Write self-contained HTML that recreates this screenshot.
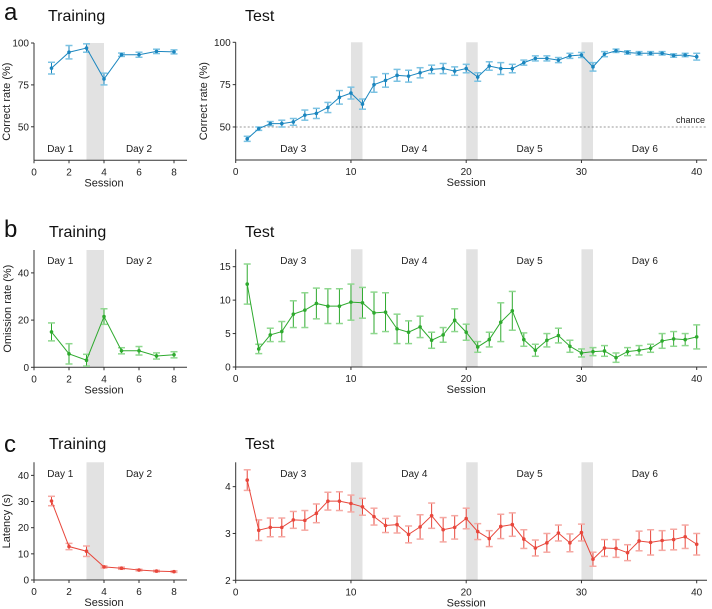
<!DOCTYPE html>
<html><head><meta charset="utf-8"><style>
body{margin:0;background:#fff;}
svg{display:block;font-family:"Liberation Sans",Arial,sans-serif;}
</style></head><body>
<svg id="fig" width="712" height="609" viewBox="0 0 712 609"></svg>
<script>
const sessionsTrain=[1,2,3,4,5,6,7,8];
const sessionsTest=Array.from({length:40},(_,i)=>i+1);
const correctTrain=[85,94.5,97,78.5,93,93,95,94.7];
const correctTrainErr=[3.5,4,2.5,3.5,1,1.5,1.3,1.2];
const correctTest=[43,49,52,52,53,57,58,61.5,67.5,70,63.5,75,77.5,80.5,80,82,84,84.5,83,84.5,79.5,86,84.5,84.5,88,90.5,90.5,89.5,92,92.5,85.5,93,95,94,93.5,93.5,93.5,92.2,92.5,91.5];
const correctTestErr=[1.5,1,1.2,2,2,3,3,3,4,3.5,3,4.5,4,3.5,3.5,3,2.5,3,2.5,2.5,2.5,2.5,3.5,2.5,1.5,1.5,1.5,1.5,1.5,1.5,2.5,1.5,1,1,1,1,1,1,1,2];
const omitTrain=[15,5.7,3,21.5,7,7,4.8,5.3];
const omitTrainErr=[3.8,4.3,2.5,3.3,1.3,1.8,1.3,1.3];
const omitTest=[12.4,2.7,4.8,5.3,7.9,8.5,9.5,9.1,9.1,9.7,9.6,8.1,8.2,5.7,5.2,6,4,4.8,7,5.2,3,4.1,6.7,8.4,4.1,2.5,4,4.7,3.1,2.1,2.3,2.4,1.4,2.3,2.5,2.8,3.9,4.2,4.1,4.5];
const omitTestErr=[3,0.7,1,1.5,2,2.6,2.3,2.6,2.6,2.7,2.3,3.1,2.9,2.2,1.7,1.6,1.2,1.1,1.7,1.2,0.8,1.1,2.9,2.9,1,0.9,1,1.1,0.9,0.6,0.6,0.8,0.7,0.6,0.7,0.6,1.1,1.1,0.9,1.8];
const latTrain=[30.2,12.8,11,5,4.5,3.8,3.4,3.2];
const latTrainErr=[1.8,1.2,2,0.4,0.4,0.3,0.3,0.3];
const latTest=[4.14,3.07,3.13,3.13,3.29,3.28,3.43,3.69,3.69,3.64,3.57,3.36,3.17,3.19,2.98,3.14,3.38,3.08,3.13,3.32,3.04,2.89,3.15,3.19,2.88,2.69,2.80,3.01,2.80,3.02,2.45,2.69,2.68,2.59,2.84,2.81,2.85,2.87,2.93,2.77];
const latTestErr=[0.22,0.22,0.2,0.2,0.18,0.21,0.2,0.19,0.2,0.18,0.18,0.18,0.15,0.18,0.18,0.26,0.27,0.26,0.25,0.22,0.17,0.17,0.26,0.25,0.2,0.17,0.2,0.17,0.19,0.18,0.15,0.18,0.19,0.17,0.21,0.27,0.21,0.22,0.25,0.23];
const ticksTrainX=[0,2,4,6,8];
const ticksTestX=[0,10,20,30,40];

const svg=document.getElementById('fig');
const NS='http://www.w3.org/2000/svg';
function el(tag,attrs,parent,text){const e=document.createElementNS(NS,tag);for(const k in attrs)e.setAttribute(k,attrs[k]);if(text!==undefined)e.textContent=text;(parent||svg).appendChild(e);return e;}

function panel(o){
  const g=el('g',{});
  
  
  const sx=v=>o.x0+(v-o.xmin)*(o.x1-o.x0)/(o.xmax-o.xmin);
  const sy=v=>o.yb-(v-o.ymin)*(o.yb-o.yt)/(o.ymax-o.ymin);
  // shaded bands
  o.bands.forEach(b=>{const r=el('rect',{x:sx(b),y:o.yt,width:sx(b+1)-sx(b),height:o.yb-o.yt,fill:'#e2e2e2'},g);
    
    });
  if(o.chance!==undefined){const l=el('line',{x1:o.x0,x2:o.axEnd,y1:sy(o.chance),y2:sy(o.chance),stroke:'#777','stroke-width':0.8,'stroke-dasharray':'2,2'},g);
    
    
    const t=el('text',{x:o.axEnd-2,y:sy(o.chance)-4,'font-size':9,'text-anchor':'end',fill:'#222'},g,'chance');
    
    }
  // axes
  el('line',{x1:o.x0,x2:o.axEnd,y1:o.yb,y2:o.yb,stroke:'#333','stroke-width':1},g);
  el('line',{x1:o.x0,x2:o.x0,y1:o.yt,y2:o.yb,stroke:'#333','stroke-width':1},g);
  o.xt.forEach(v=>{el('line',{x1:sx(v),x2:sx(v),y1:o.yb,y2:o.yb+3,stroke:'#333'},g);
    const t=el('text',{x:sx(v),y:o.yb+15,'font-size':10,'text-anchor':'middle',fill:'#222'},g,v);
    
    });
  o.yticks.forEach(v=>{el('line',{x1:o.x0-3,x2:o.x0,y1:sy(v),y2:sy(v),stroke:'#333'},g);
    const t=el('text',{x:o.x0-5,y:sy(v)+3.5,'font-size':10,'text-anchor':'end',fill:'#222'},g,v);
    
    });
  const xl=el('text',{x:(o.x0+o.x1)/2,y:o.yb+26,'font-size':11,'text-anchor':'middle',fill:'#222'},g,'Session');
  
  
  if(o.ytitle){const yl=el('text',{x:0,y:0,'font-size':11,'text-anchor':'middle',fill:'#222',transform:`translate(${o.ytx},${(o.yt+o.yb)/2}) rotate(-90)`},g,o.ytitle);
    
    }
  o.days.forEach(d=>{const t=el('text',{x:sx(d[0]),y:o.dayY,'font-size':10,'text-anchor':'middle',fill:'#222'},g,d[1]);
    
    });
  // error bars
  o.xs.forEach((s,i)=>{const x=sx(s),hi=sy(o.ys[i]+o.err[i]),lo=sy(o.ys[i]-o.err[i]);
    const eg=el('g',{stroke:o.c,'stroke-width':1},g);
    
    
    el('line',{x1:x,x2:x,y1:hi,y2:lo},eg);
    el('line',{x1:x-3.5,x2:x+3.5,y1:hi,y2:hi,stroke:o.lc,'stroke-width':1.5},eg);
    el('line',{x1:x-3.5,x2:x+3.5,y1:lo,y2:lo,stroke:o.lc,'stroke-width':1.5},eg);});
  const pts=o.xs.map((s,i)=>sx(s)+','+sy(o.ys[i])).join(' ');
  const pl=el('polyline',{points:pts,fill:'none',stroke:o.c,'stroke-width':1},g);
  
  
  o.xs.forEach((s,i)=>{const c=el('circle',{cx:sx(s),cy:sy(o.ys[i]),r:1.8,fill:o.c},g);
    
    });
}
function label(x,y,txt,size,name,weight){const t=el('text',{x:x,y:y,'font-size':size,fill:'#111'},svg,txt);
  
  }

const blue='#1b86bf',blueL='#7cc3e3',green='#2eaa2e',greenL='#8fd88f',red='#e8473c',redL='#f5a9a3';
const L={x0:34,x1:174,xmin:0,xmax:8,axEnd:187,bands:[3],xt:ticksTrainX};
const R={x0:235.7,x1:696.7,xmin:0,xmax:40,axEnd:707,bands:[10,20,30],xt:ticksTestX};

panel(Object.assign({},L,{name:'panel-a-training',yt:43,yb:160.3,ymin:30,ymax:100,yticks:[50,75,100],ytitle:'Correct rate (%)',ytx:10,days:[[1.5,'Day 1'],[6,'Day 2']],dayY:152,xs:sessionsTrain,ys:correctTrain,err:correctTrainErr,c:blue,lc:blueL}));
panel(Object.assign({},R,{name:'panel-a-test',yt:42.3,yb:160,ymin:30.5,ymax:100,yticks:[50,75,100],ytitle:'Correct rate (%)',ytx:207,days:[[5,'Day 3'],[15.5,'Day 4'],[25.5,'Day 5'],[35.5,'Day 6']],dayY:152,chance:50,xs:sessionsTest,ys:correctTest,err:correctTestErr,c:blue,lc:blueL}));
panel(Object.assign({},L,{name:'panel-b-training',yt:250,yb:367.3,ymin:0,ymax:49.7,yticks:[0,20,40],ytitle:'Omission rate (%)',ytx:11,days:[[1.5,'Day 1'],[6,'Day 2']],dayY:264,xs:sessionsTrain,ys:omitTrain,err:omitTrainErr,c:green,lc:greenL}));
panel(Object.assign({},R,{name:'panel-b-test',yt:249.3,yb:367,ymin:0,ymax:17.6,yticks:[0,5,10,15],days:[[5,'Day 3'],[15.5,'Day 4'],[25.5,'Day 5'],[35.5,'Day 6']],dayY:264,xs:sessionsTest,ys:omitTest,err:omitTestErr,c:green,lc:greenL}));
panel(Object.assign({},L,{name:'panel-c-training',yt:462.3,yb:580,ymin:0,ymax:45,yticks:[0,10,20,30,40],ytitle:'Latency (s)',ytx:10,days:[[1.5,'Day 1'],[6,'Day 2']],dayY:477,xs:sessionsTrain,ys:latTrain,err:latTrainErr,c:red,lc:redL}));
panel(Object.assign({},R,{name:'panel-c-test',yt:462.3,yb:580.3,ymin:2,ymax:4.52,yticks:[2,3,4],days:[[5,'Day 3'],[15.5,'Day 4'],[25.5,'Day 5'],[35.5,'Day 6']],dayY:477,xs:sessionsTest,ys:latTest,err:latTestErr,c:red,lc:redL}));

label(4,20,'a',24,'panel-letter-a');
label(48,21,'Training',16,'panel-a-training-title');
label(245,21,'Test',16,'panel-a-test-title');
label(4,237,'b',24,'panel-letter-b');
label(49,237,'Training',16,'panel-b-training-title');
label(245,237,'Test',16,'panel-b-test-title');
label(4,452,'c',24,'panel-letter-c');
label(49,449,'Training',16,'panel-c-training-title');
label(245,449,'Test',16,'panel-c-test-title');
</script>
</body></html>
